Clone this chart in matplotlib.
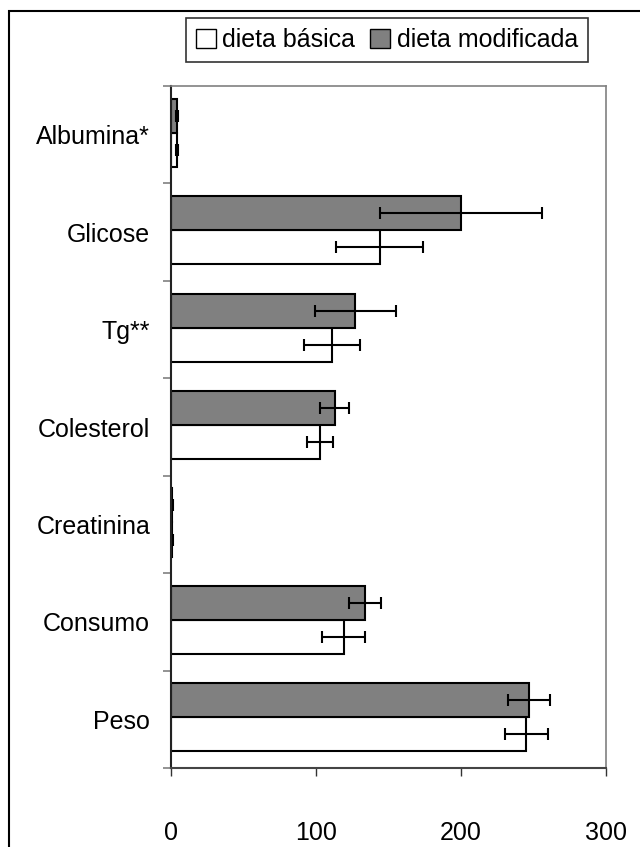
import matplotlib
matplotlib.use('Agg')
import matplotlib.pyplot as plt
import numpy as np
from matplotlib.patches import Patch, Rectangle

plt.rcParams['font.family'] = ['Liberation Sans', 'DejaVu Sans']

# Categorias (de baixo para cima)
categorias = ['Peso', 'Consumo', 'Creatinina', 'Colesterol', 'Tg**', 'Glicose', 'Albumina*']

# Médias e desvios
basica = [245, 119, 1.0, 103, 111, 144, 4.2]
basica_dp = [15, 15, 0.3, 9, 19, 30, 0.5]
modificada = [247, 134, 1.0, 113, 127, 200, 4.2]
modificada_dp = [14.5, 11, 0.3, 10, 28, 56, 0.5]

xticks = [0, 100, 200, 300]
FS = 18

fig = plt.figure(figsize=(6.4, 8.47), dpi=100)
ax = fig.add_axes([171 / 640, 1 - 768 / 847, (606 - 171) / 640, (768 - 86) / 847])

y = np.arange(len(categorias))
h = 0.35

ax.barh(y - h / 2 + 0.02, basica, height=h, color='white', edgecolor='black',
        linewidth=1.5, xerr=basica_dp,
        error_kw=dict(ecolor='black', elinewidth=1.5, capsize=4, capthick=1.5))
ax.barh(y + h / 2 + 0.02, modificada, height=h, color='#808080', edgecolor='black',
        linewidth=1.5, xerr=modificada_dp,
        error_kw=dict(ecolor='black', elinewidth=1.5, capsize=4, capthick=1.5))

ax.set_xlim(0, 300)
ax.set_ylim(-0.5, len(categorias) - 0.5)
ax.set_xticks(xticks)
ax.set_xticklabels([str(v) for v in xticks], fontsize=FS)
ax.tick_params(axis='x', direction='out', length=6, width=1, color='#333333', pad=32)

ax.set_yticks(y)
ax.set_yticklabels(categorias, fontsize=FS)
ax.set_yticks(np.arange(len(categorias) + 1) - 0.5, minor=True)
ax.tick_params(axis='y', which='major', length=0, pad=15)
ax.tick_params(axis='y', which='minor', length=6, width=1.2, color='#808080')

for lado in ['top', 'right']:
    ax.spines[lado].set_color('#808080')
    ax.spines[lado].set_linewidth(1.2)
ax.spines['left'].set_color('#222222')
ax.spines['left'].set_linewidth(1.5)
ax.spines['bottom'].set_color('#444444')
ax.spines['bottom'].set_linewidth(1.5)

# Moldura externa
fig.patches.append(Rectangle((9 / 640, -0.1), 1.2, 1 - 11 / 847 + 0.1,
                             transform=fig.transFigure, fill=False,
                             edgecolor='black', linewidth=1.5))

handles = [Patch(facecolor='white', edgecolor='black', label='dieta básica'),
           Patch(facecolor='#808080', edgecolor='black', label='dieta modificada')]
leg = fig.legend(handles=handles, loc='center', bbox_to_anchor=(387 / 640, 1 - 40 / 847),
                 ncol=2, fontsize=FS, frameon=True, fancybox=False,
                 handlelength=0.8, handleheight=0.8, handletextpad=0.25,
                 columnspacing=0.6, borderpad=0.4, edgecolor='black')
leg.get_frame().set_linewidth(1.2)

plt.savefig('out.png', dpi=100)
